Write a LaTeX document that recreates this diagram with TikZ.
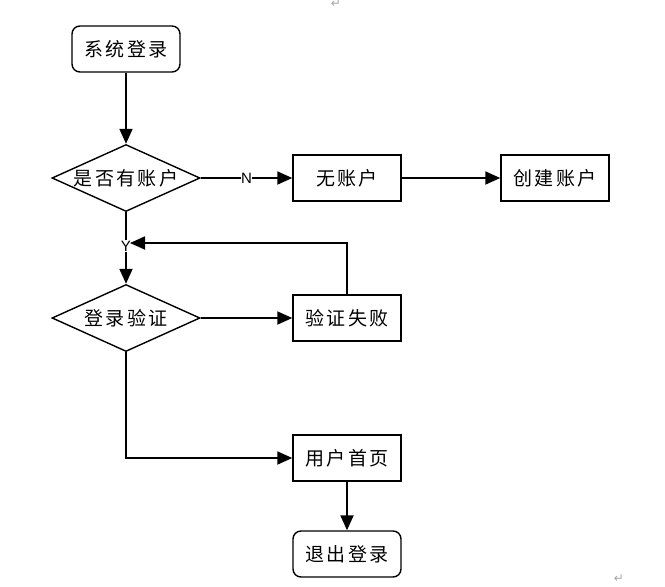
\documentclass[tikz,border=0pt]{standalone}
\usepackage{fontspec}
\newfontfamily\cjk[LetterSpace=12]{Noto Sans CJK SC}
\newfontfamily\lab{Liberation Sans}
\newfontfamily\sym{DejaVu Sans}
\usetikzlibrary{shapes.geometric,arrows.meta}
\begin{document}
\begin{tikzpicture}[x=1pt,y=-1pt,
  every node/.style={font=\cjk\fontsize{19}{21}\selectfont},
  termbox/.style={draw,line width=1.4pt,rounded corners=8pt,minimum width=108pt,minimum height=46pt,inner sep=0pt},
  procbox/.style={draw,line width=1.4pt,minimum width=108pt,minimum height=46pt,inner sep=0pt},
  decbox/.style={draw,line width=1.4pt,diamond,aspect=2.2,minimum width=148pt,minimum height=67pt,inner sep=0pt},
  conn/.style={line width=1.8pt,-{Triangle[length=15pt,width=13pt]}},
  edgelab/.style={font=\lab\fontsize{15}{16}\selectfont,fill=white,inner sep=0.5pt}]
\useasboundingbox (0,0) rectangle (665,587);
\node[termbox] (start) at (126,49) {系统登录};
\node[decbox] (has) at (126,178) {是否有账户};
\node[procbox] (none) at (347,178) {无账户};
\node[procbox] (create) at (555,178) {创建账户};
\node[decbox] (verify) at (126,318) {登录验证};
\node[procbox] (fail) at (347,318) {验证失败};
\node[procbox] (home) at (347,458) {用户首页};
\node[termbox] (logout) at (347,554) {退出登录};
\coordinate (loopc) at (347,243);
\coordinate (loopend) at (130,243);
\coordinate (bend) at (126,458);
\draw[conn] (start) -- (has);
\draw[conn] (has) -- node[edgelab] {N} (none);
\draw[conn] (none) -- (create);
\draw[conn] (has) -- node[edgelab,pos=0.47] {Y} (verify);
\draw[conn] (verify) -- (fail);
\draw[conn] (fail.north) -- (loopc) -- (loopend);
\draw[conn] (verify.south) -- (bend) -- (home.west);
\draw[conn] (home) -- (logout);
\node[font=\sym\fontsize{12}{13}\selectfont,text=gray!70] (m1) at (336,4) {↵};
\node[font=\sym\fontsize{12}{13}\selectfont,text=gray!70] (m2) at (619,579) {↵};
\end{tikzpicture}
\end{document}
